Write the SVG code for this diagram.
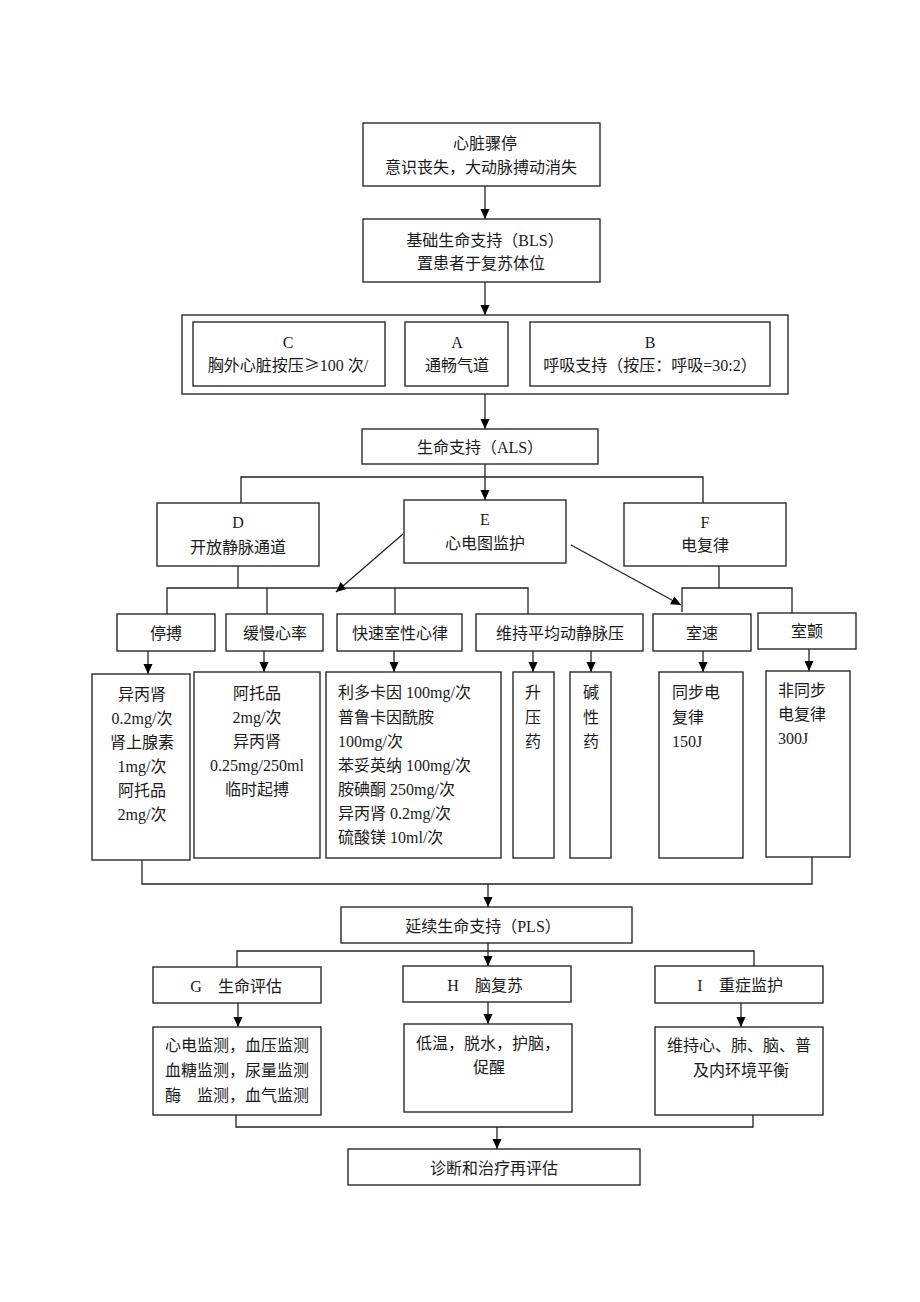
<svg xmlns="http://www.w3.org/2000/svg" width="920" height="1302" viewBox="0 0 920 1302">
<style>
.b{fill:#fff;stroke:#2a2a2a;stroke-width:1.4}
.l{fill:none;stroke:#222;stroke-width:1.3}
.t{font-family:"Liberation Serif","Noto Sans CJK SC",serif;font-size:16px;fill:#1a1a1a}
.c{text-anchor:middle}
.cjk{font-family:"Noto Sans CJK SC",sans-serif}
</style>
<defs>
<marker id="ah" markerWidth="10" markerHeight="11" refX="11" refY="5.5" orient="auto" markerUnits="userSpaceOnUse" viewBox="0 0 11 11">
<path d="M0,0.5 L11,5.5 L0,10.5 z" fill="#000"/>
</marker>
</defs>
<rect width="920" height="1302" fill="#fff"/>

<g id="connectors">
<line class="l" x1="485" y1="186" x2="485" y2="219" marker-end="url(#ah)"/>
<line class="l" x1="485" y1="282" x2="485" y2="315" marker-end="url(#ah)"/>
<line class="l" x1="485" y1="394" x2="485" y2="429" marker-end="url(#ah)"/>
<line class="l" x1="485" y1="464" x2="485" y2="500" marker-end="url(#ah)"/>
<polyline class="l" points="241,503 241,477 703,477 703,503"/>
<polyline class="l" points="167,614 167,588 528,588 528,614"/>
<line class="l" x1="238" y1="566" x2="238" y2="588"/>
<line class="l" x1="267" y1="588" x2="267" y2="614"/>
<line class="l" x1="395" y1="588" x2="395" y2="614"/>
<line class="l" x1="403" y1="534" x2="336" y2="592" marker-end="url(#ah)"/>
<line class="l" x1="571" y1="545" x2="681" y2="605" marker-end="url(#ah)"/>
<line class="l" x1="719" y1="566" x2="719" y2="588"/>
<polyline class="l" points="682,612 682,588 792,588 792,613"/>
<line class="l" x1="148" y1="651" x2="148" y2="674" marker-end="url(#ah)"/>
<line class="l" x1="264" y1="651" x2="264" y2="672" marker-end="url(#ah)"/>
<line class="l" x1="394" y1="651" x2="394" y2="672" marker-end="url(#ah)"/>
<line class="l" x1="533" y1="651" x2="533" y2="672" marker-end="url(#ah)"/>
<line class="l" x1="591" y1="651" x2="591" y2="672" marker-end="url(#ah)"/>
<line class="l" x1="703" y1="651" x2="703" y2="672" marker-end="url(#ah)"/>
<line class="l" x1="809" y1="649" x2="809" y2="671" marker-end="url(#ah)"/>
<polyline class="l" points="142,860 142,884 812,884 812,857"/>
<line class="l" x1="488" y1="884" x2="488" y2="907" marker-end="url(#ah)"/>
<polyline class="l" points="237,967 237,951 754,951 754,966"/>
<line class="l" x1="488" y1="943" x2="488" y2="966" marker-end="url(#ah)"/>
<line class="l" x1="238" y1="1003" x2="238" y2="1027" marker-end="url(#ah)"/>
<line class="l" x1="488" y1="1002" x2="488" y2="1024" marker-end="url(#ah)"/>
<line class="l" x1="741" y1="1003" x2="741" y2="1027" marker-end="url(#ah)"/>
<polyline class="l" points="236,1115 236,1127 753,1127 753,1115"/>
<line class="l" x1="497" y1="1127" x2="497" y2="1149" marker-end="url(#ah)"/>
</g>

<g id="n-arrest">
<rect class="b" x="363" y="123" width="237" height="63"/>
<text class="t c" x="485" y="149">心脏骤停</text>
<text class="t c" x="481" y="173">意识丧失，大动脉搏动消失</text>
</g>
<g id="n-bls">
<rect class="b" x="363" y="219" width="237" height="63"/>
<text class="t c" x="485" y="246">基础生命支持（BLS）</text>
<text class="t c" x="481" y="269">置患者于复苏体位</text>
</g>
<g id="n-cab">
<rect class="b" x="182" y="315" width="606" height="79"/>
</g>
<g id="n-c">
<rect class="b" x="193" y="322" width="192" height="64"/>
<text class="t c" x="288" y="348">C</text>
<text class="t c" x="288" y="371">胸外心脏按压<tspan class="cjk">≥</tspan>100 次/</text>
</g>
<g id="n-a">
<rect class="b" x="405" y="322" width="103" height="64"/>
<text class="t c" x="457" y="348">A</text>
<text class="t c" x="457" y="371">通畅气道</text>
</g>
<g id="n-b">
<rect class="b" x="530" y="322" width="240" height="64"/>
<text class="t c" x="650" y="348">B</text>
<text class="t c" x="650" y="371">呼吸支持（按压：呼吸=30:2）</text>
</g>
<g id="n-als">
<rect class="b" x="362" y="429" width="236" height="35"/>
<text class="t c" x="480" y="453">生命支持（ALS）</text>
</g>
<g id="n-d">
<rect class="b" x="157" y="503" width="162" height="63"/>
<text class="t c" x="238" y="528">D</text>
<text class="t c" x="238" y="553">开放静脉通道</text>
</g>
<g id="n-e">
<rect class="b" x="404" y="500" width="162" height="63"/>
<text class="t c" x="485" y="525">E</text>
<text class="t c" x="485" y="549">心电图监护</text>
</g>
<g id="n-f">
<rect class="b" x="624" y="503" width="162" height="63"/>
<text class="t c" x="705" y="528">F</text>
<text class="t c" x="705" y="551">电复律</text>
</g>

<g id="n-asystole">
<rect class="b" x="117" y="614" width="98" height="37"/>
<text class="t c" x="166" y="639">停搏</text>
</g>
<g id="n-brady">
<rect class="b" x="226" y="614" width="97" height="37"/>
<text class="t c" x="275" y="639">缓慢心率</text>
</g>
<g id="n-tachy">
<rect class="b" x="337" y="614" width="125" height="37"/>
<text class="t c" x="400" y="639">快速室性心律</text>
</g>
<g id="n-map">
<rect class="b" x="476" y="614" width="167" height="37"/>
<text class="t c" x="560" y="639">维持平均动静脉压</text>
</g>
<g id="n-vt">
<rect class="b" x="653" y="614" width="98" height="37"/>
<text class="t c" x="702" y="639">室速</text>
</g>
<g id="n-vf">
<rect class="b" x="758" y="613" width="98" height="36"/>
<text class="t c" x="807" y="637">室颤</text>
</g>

<g id="n-d1">
<rect class="b" x="92" y="674" width="98" height="186"/>
<text class="t c" x="142" y="700">异丙肾</text>
<text class="t c" x="142" y="724">0.2mg/次</text>
<text class="t c" x="142" y="748">肾上腺素</text>
<text class="t c" x="142" y="772">1mg/次</text>
<text class="t c" x="142" y="796">阿托品</text>
<text class="t c" x="142" y="820">2mg/次</text>
</g>
<g id="n-d2">
<rect class="b" x="194" y="672" width="126" height="186"/>
<text class="t c" x="257" y="699">阿托品</text>
<text class="t c" x="257" y="723">2mg/次</text>
<text class="t c" x="257" y="747">异丙肾</text>
<text class="t c" x="257" y="771">0.25mg/250ml</text>
<text class="t c" x="257" y="795">临时起搏</text>
</g>
<g id="n-d3">
<rect class="b" x="326" y="672" width="175" height="186"/>
<text class="t" x="338" y="698">利多卡因 100mg/次</text>
<text class="t" x="338" y="723">普鲁卡因酰胺</text>
<text class="t" x="338" y="747">100mg/次</text>
<text class="t" x="338" y="771">苯妥英纳 100mg/次</text>
<text class="t" x="338" y="795">胺碘酮 250mg/次</text>
<text class="t" x="338" y="819">异丙肾 0.2mg/次</text>
<text class="t" x="338" y="843">硫酸镁 10ml/次</text>
</g>
<g id="n-d4">
<rect class="b" x="513" y="672" width="41" height="186"/>
<text class="t c" x="533" y="698">升</text>
<text class="t c" x="533" y="723">压</text>
<text class="t c" x="533" y="747">药</text>
</g>
<g id="n-d5">
<rect class="b" x="570" y="672" width="41" height="186"/>
<text class="t c" x="591" y="698">碱</text>
<text class="t c" x="591" y="723">性</text>
<text class="t c" x="591" y="747">药</text>
</g>
<g id="n-d6">
<rect class="b" x="659" y="672" width="84" height="186"/>
<text class="t" x="672" y="698">同步电</text>
<text class="t" x="672" y="723">复律</text>
<text class="t" x="672" y="747">150J</text>
</g>
<g id="n-d7">
<rect class="b" x="766" y="671" width="84" height="186"/>
<text class="t" x="778" y="696">非同步</text>
<text class="t" x="778" y="720">电复律</text>
<text class="t" x="778" y="744">300J</text>
</g>

<g id="n-pls">
<rect class="b" x="341" y="907" width="291" height="36"/>
<text class="t c" x="483" y="932">延续生命支持（PLS）</text>
</g>
<g id="n-g">
<rect class="b" x="153" y="967" width="168" height="36"/>
<text class="t c" x="196" y="992">G</text>
<text class="t" x="218" y="992">生命评估</text>
</g>
<g id="n-h">
<rect class="b" x="403" y="966" width="168" height="36"/>
<text class="t c" x="453" y="991">H</text>
<text class="t" x="475" y="991">脑复苏</text>
</g>
<g id="n-i">
<rect class="b" x="655" y="966" width="168" height="37"/>
<text class="t c" x="700" y="991">I</text>
<text class="t" x="719" y="991">重症监护</text>
</g>
<g id="n-g1">
<rect class="b" x="153" y="1027" width="168" height="88"/>
<text class="t" x="165" y="1051">心电监测，血压监测</text>
<text class="t" x="165" y="1076">血糖监测，尿量监测</text>
<text class="t" x="165" y="1101">酶</text>
<text class="t" x="197" y="1101">监测，血气监测</text>
</g>
<g id="n-h1">
<rect class="b" x="404" y="1024" width="168" height="88"/>
<text class="t" x="416" y="1049">低温，脱水，护脑，</text>
<text class="t c" x="489" y="1073">促醒</text>
</g>
<g id="n-i1">
<rect class="b" x="655" y="1027" width="168" height="88"/>
<text class="t" x="667" y="1051">维持心、肺、脑、普</text>
<text class="t c" x="741" y="1076">及内环境平衡</text>
</g>
<g id="n-reeval">
<rect class="b" x="348" y="1149" width="292" height="36"/>
<text class="t c" x="494" y="1174">诊断和治疗再评估</text>
</g>
</svg>
